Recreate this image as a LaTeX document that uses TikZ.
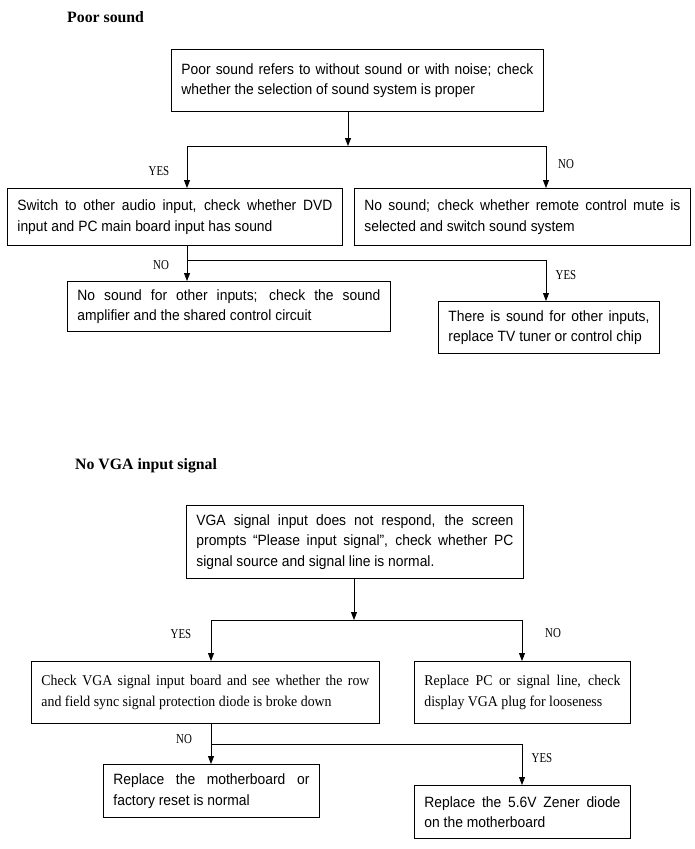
\documentclass[tikz,border=0pt]{standalone}
\usepackage{fontspec}
\setmainfont[FakeStretch=0.93]{Liberation Sans}
\newfontfamily\tnr{Liberation Serif}
\newfontfamily\tnrbox[FakeStretch=0.93]{Liberation Serif}
\newfontfamily\narrowserif[FakeStretch=0.8]{Liberation Serif}
\usetikzlibrary{arrows.meta}
\newcommand{\nohyph}{\hyphenpenalty=10000\relax\exhyphenpenalty=10000\relax}
\begin{document}
\begin{tikzpicture}[x=1pt,y=-1pt,
  box/.style={draw, line width=0.9pt, inner xsep=10pt, inner ysep=0pt, align=justify, anchor=north west,
    font=\fontsize{14.9}{20.5}\selectfont\nohyph},
  sbox/.style={box, font=\tnrbox\fontsize{14.9}{20.5}\selectfont\nohyph},
  lbl/.style={font=\narrowserif\fontsize{13.6}{14}\selectfont, inner sep=0pt},
  title/.style={font=\tnr\bfseries\fontsize{15.8}{18}\selectfont, inner sep=0pt, anchor=west},
  conn/.style={line width=0.8pt},
  arr/.style={conn, -{Triangle[length=8pt,width=6pt]}}
]
\fill[white] (0,0) rectangle (694,849);
\useasboundingbox (0,0) rectangle (694,849);

% ---------- Poor sound ----------
\node[title] (t1) at (67,17) {Poor sound};
\node[box, text width=352pt, minimum height=62pt] (A) at (171,49)
  {Poor sound refers to without sound or with noise; check\linebreak whether the selection of sound system is proper};
\node[box, text width=315pt, minimum height=57pt] (B) at (7,188)
  {Switch to other audio input, check whether DVD\linebreak input and PC main board input has sound};
\node[box, text width=316pt, minimum height=57pt] (C) at (354,188)
  {No sound; check whether remote control mute is\linebreak selected and switch sound system};
\node[box, text width=303pt, minimum height=50pt] (D) at (67,281)
  {No sound for other inputs; check the sound\linebreak amplifier and the shared control circuit};
\node[box, text width=201pt, minimum height=52pt] (E) at (438,301)
  {There is sound for other inputs,\linebreak replace TV tuner or control chip};

\coordinate (s1) at (348,146);
\coordinate (s1l) at (187,146);
\coordinate (s1r) at (546,146);
\draw[arr] (s1 |- A.south) -- (s1);
\draw[conn] (s1l) -- (s1r);
\draw[arr] (s1l) -- (s1l |- B.north);
\draw[arr] (s1r) -- (s1r |- C.north);
\node[lbl] (y1) at (159,171) {YES};
\node[lbl] (n1) at (566,164) {NO};

\coordinate (s2l) at (187,260);
\coordinate (s2r) at (546,260);
\draw[arr] (s2l |- B.south) -- (s2l |- D.north);
\draw[arr] (s2l) -- (s2r) -- (s2r |- E.north);
\node[lbl] (n2) at (161,265) {NO};
\node[lbl] (y2) at (566,275) {YES};

% ---------- No VGA input signal ----------
\node[title] (t2) at (75,466) {No VGA input signal};
\node[box, text width=317pt, minimum height=73pt] (F) at (186,505)
  {VGA signal input does not respond, the screen\linebreak prompts “Please input signal”, check whether PC\linebreak signal source and signal line is normal.};
\node[sbox, text width=328pt, minimum height=62pt] (G) at (31,661)
  {Check VGA signal input board and see whether the row\linebreak and field sync signal protection diode is broke down};
\node[sbox, text width=196pt, minimum height=62pt] (I) at (414,661)
  {Replace PC or signal line, check\linebreak display VGA plug for looseness};
\node[box, text width=196pt, minimum height=53pt] (H) at (103,764)
  {Replace the motherboard or\linebreak factory reset is normal};
\node[box, text width=196pt, minimum height=53pt] (J) at (414,785)
  {Replace the 5.6V Zener diode\linebreak on the motherboard};

\coordinate (v1) at (354,620);
\coordinate (v1l) at (211,620);
\coordinate (v1r) at (522,620);
\draw[arr] (v1 |- F.south) -- (v1);
\draw[conn] (v1l) -- (v1r);
\draw[arr] (v1l) -- (v1l |- G.north);
\draw[arr] (v1r) -- (v1r |- I.north);
\node[lbl] (y3) at (181,634) {YES};
\node[lbl] (n3) at (553,633) {NO};

\coordinate (v2l) at (211,744);
\coordinate (v2r) at (522,744);
\draw[arr] (v2l |- G.south) -- (v2l |- H.north);
\draw[arr] (v2l) -- (v2r) -- (v2r |- J.north);
\node[lbl] (n4) at (184,739) {NO};
\node[lbl] (y4) at (542,758) {YES};
\end{tikzpicture}
\end{document}
